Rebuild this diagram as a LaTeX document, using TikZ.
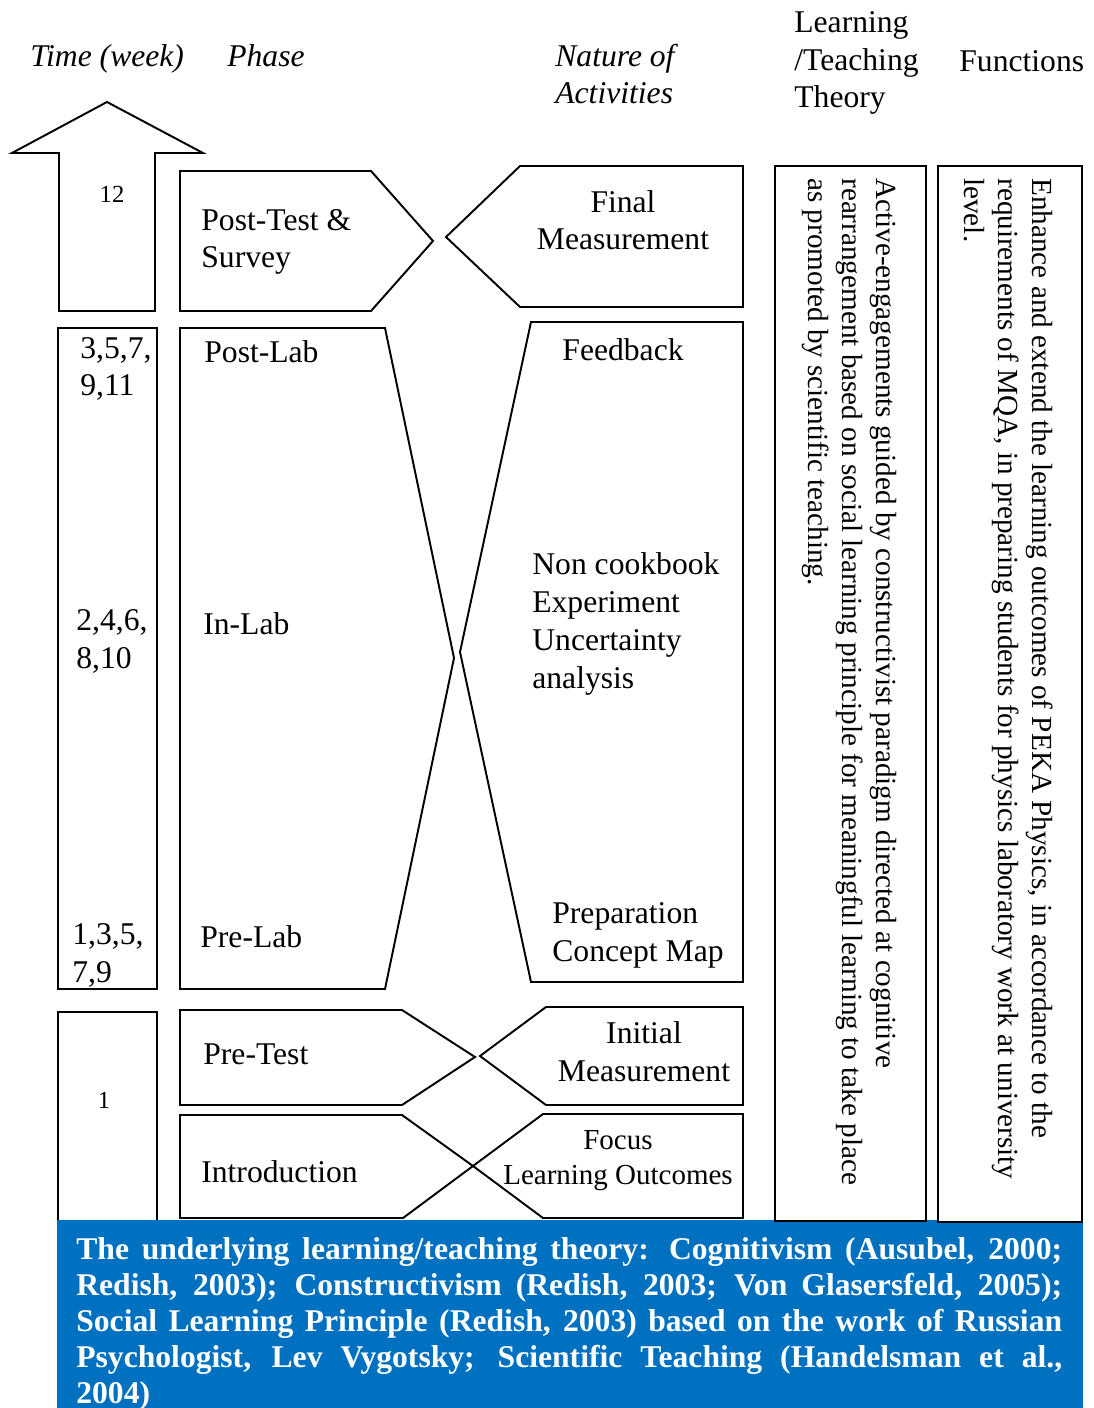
\documentclass[tikz,border=0pt]{standalone}
\usepackage{fontspec}
\setmainfont{Liberation Serif}
\definecolor{bandblue}{RGB}{0,112,192}

\begin{document}
\begin{tikzpicture}[x=0.02cm, y=-0.02cm,
    boxline/.style={draw=black, line width=1.1pt},
    txt/.style={inner sep=0pt, anchor=base west, align=left, font=\fontsize{18}{21.6}\selectfont},
    ctxt/.style={txt, anchor=base, align=center},
    hdr/.style={txt, font=\fontsize{18}{21.6}\selectfont\itshape},
    wk/.style={inner sep=0pt, anchor=base, font=\fontsize{14}{16}\selectfont},
    side/.style={inner sep=0pt, rotate=-90, anchor=north west, align=left, font=\fontsize{16.6}{19.3}\selectfont},
    bandtxt/.style={inner sep=0pt, anchor=base west, text width=19.72cm, align=justify, text=white, font=\fontsize{18}{20.6}\selectfont\bfseries}]
      \useasboundingbox (0,0) rectangle (1093,1408);

      % headings (multi-line nodes sit on their last baseline)
      \node[hdr] at (30,67)   (time)   {Time (week)};
      \node[hdr] at (227,67)  (phase)  {Phase};
      \node[hdr] at (555,104) (nature) {Nature of\\Activities};
      \node[txt] at (794,108) (theoryhd) {Learning\\/Teaching\\Theory};
      \node[txt] at (959,72)  (funchd) {Functions};

      % time column
      \draw[boxline] (59,311) -- (59,153) -- (12,153) -- (107,102) -- (203,153) -- (155,153) -- (155,311) -- cycle;
      \draw[boxline] (58,328) rectangle (157,989);
      \draw[boxline] (58,1012) rectangle (157,1225);
      \node[wk]  at (112,203) (wkfinal) {12};
      \node[txt] at (80,396)  (wkpost)  {3,5,7,\\9,11};
      \node[txt] at (76,668)  (wkin)    {2,4,6,\\8,10};
      \node[txt] at (72,982)  (wkpre)   {1,3,5,\\7,9};
      \node[wk]  at (104,1108) (wkfirst) {1};

      % phases
      \draw[boxline] (180,171) -- (371,171) -- (433,241) -- (371,311) -- (180,311) -- cycle;
      \draw[boxline] (180,328) -- (385,328) -- (454,658) -- (385,989) -- (180,989) -- cycle;
      \draw[boxline] (180,1010) -- (402,1010) -- (475,1057) -- (402,1105) -- (180,1105) -- cycle;
      \draw[boxline] (180,1115) -- (402,1115) -- (473,1166) -- (403,1218) -- (180,1218) -- cycle;
      \node[txt] at (201,268)  (posttest) {Post-Test \&\\Survey};
      \node[txt] at (204,363)  (postlab)  {Post-Lab};
      \node[txt] at (203,634)  (inlab)    {In-Lab};
      \node[txt] at (200,947)  (prelab)   {Pre-Lab};
      \node[txt] at (203,1064) (pretest)  {Pre-Test};
      \node[txt] at (201,1182) (intro)    {Introduction};

      % activities
      \draw[boxline] (446,237) -- (520,166) -- (743,166) -- (743,307) -- (520,307) -- cycle;
      \draw[boxline] (460,652) -- (531,322) -- (743,322) -- (743,982) -- (531,982) -- cycle;
      \draw[boxline] (480,1056) -- (546,1007) -- (743,1007) -- (743,1105) -- (546,1105) -- cycle;
      \draw[boxline] (473,1166) -- (543,1114) -- (743,1114) -- (743,1218) -- (543,1218) -- cycle;
      \node[ctxt] at (623,250)  (finalm)   {Final\\Measurement};
      \node[ctxt] at (623,361)  (feedback) {Feedback};
      \node[txt]  at (532,688)  (nocook)   {Non cookbook\\Experiment\\Uncertainty\\analysis};
      \node[txt]  at (552,961)  (prep)     {Preparation\\Concept Map};
      \node[ctxt] at (644,1081) (initialm) {Initial\\Measurement};
      \node[ctxt, font=\fontsize{16.5}{19.5}\selectfont] at (618,1184) (focus) {Focus\\Learning Outcomes};

      % theory band
      \fill[bandblue] (57,1220) rectangle (1083,1408);
      \node[bandtxt] at (76,1259) (theory) {The underlying learning/teaching theory: Cognitivism (Ausubel, 2000;\linebreak
        Redish, 2003); Constructivism (Redish, 2003; Von Glasersfeld, 2005);\linebreak
        Social Learning Principle (Redish, 2003) based on the work of Russian\linebreak
        Psychologist, Lev Vygotsky; Scientific Teaching (Handelsman et al.,\linebreak
        2004)};

      % theory and functions columns
      \draw[boxline, fill=white] (775,166) rectangle (926,1221);
      \draw[boxline, fill=white] (938,166) rectangle (1082,1222);
      \node[side] at (897,178)  (theorytxt) {Active-engagements guided by constructivist paradigm directed at cognitive\\
        rearrangement based on social learning principle for meaningful learning to take place\\
        as promoted by scientific teaching.};
      \node[side] at (1053,178) (functxt) {Enhance and extend the learning outcomes of PEKA Physics, in accordance to the\\
        requirements of MQA, in preparing students for physics laboratory work at university\\
        level.};

    \end{tikzpicture}
\end{document}
